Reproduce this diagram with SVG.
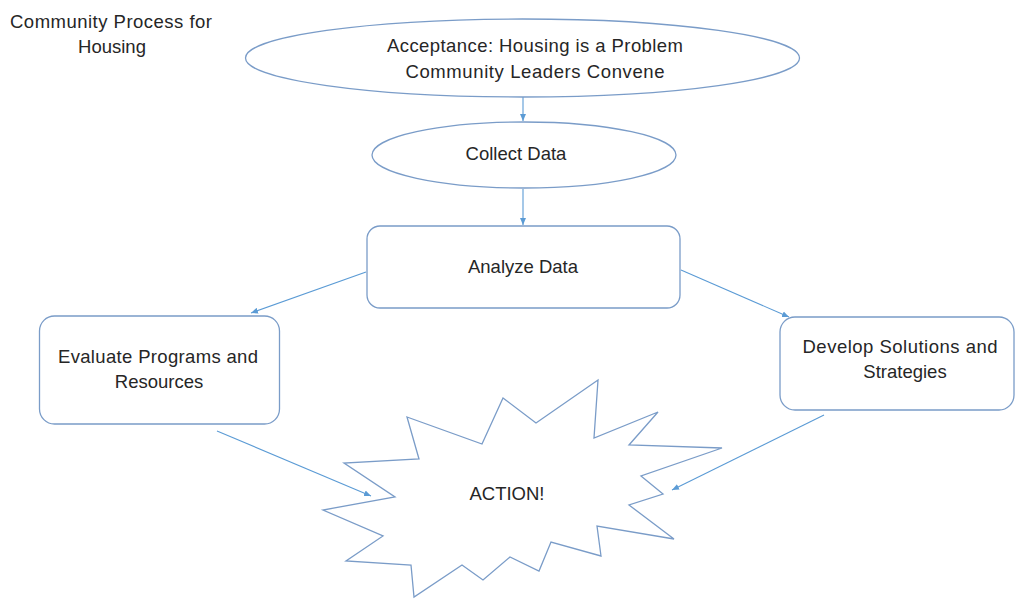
<svg xmlns="http://www.w3.org/2000/svg" width="1015" height="599" viewBox="0 0 1015 599">
<defs>
<style>
.shape{fill:#ffffff;stroke:#7a9cc8;stroke-width:1.3}
.conn{fill:none;stroke:#5b9bd5;stroke-width:1.1}
.t{font-family:"Liberation Sans",Arial,sans-serif;font-size:18.5px;fill:#262626;text-anchor:middle}
</style>
<marker id="arr" markerUnits="userSpaceOnUse" markerWidth="8" markerHeight="8" viewBox="0 0 8 8" refX="7" refY="4" orient="auto">
<path d="M0,1 L7,4 L0,7 Z" fill="#5b9bd5"/>
</marker>
</defs>
<rect width="1015" height="599" fill="#ffffff"/>
<g id="title">
<text class="t" x="111" y="28" textLength="202">Community Process for</text>
<text class="t" x="112" y="53">Housing</text>
</g>
<g id="connectors">
<line class="conn" x1="523" y1="97" x2="523" y2="121" marker-end="url(#arr)"/>
<line class="conn" x1="523" y1="189" x2="523" y2="225" marker-end="url(#arr)"/>
<line class="conn" x1="366" y1="272" x2="251" y2="313" marker-end="url(#arr)"/>
<line class="conn" x1="681" y1="270" x2="789" y2="317" marker-end="url(#arr)"/>
<line class="conn" x1="217" y1="431" x2="371" y2="496" marker-end="url(#arr)"/>
<line class="conn" x1="824" y1="415" x2="672" y2="490" marker-end="url(#arr)"/>
</g>
<g id="acceptance">
<ellipse class="shape" cx="522.5" cy="58" rx="277" ry="39"/>
<text class="t" x="535" y="52" textLength="296">Acceptance: Housing is a Problem</text>
<text class="t" x="535" y="78" textLength="259">Community Leaders Convene</text>
</g>
<g id="collect">
<ellipse class="shape" cx="524" cy="155" rx="152" ry="33"/>
<text class="t" x="516" y="160">Collect Data</text>
</g>
<g id="analyze">
<rect class="shape" x="367" y="226" width="313" height="82" rx="13"/>
<text class="t" x="523" y="273">Analyze Data</text>
</g>
<g id="evaluate">
<rect class="shape" x="39.5" y="316" width="240" height="108" rx="15"/>
<text class="t" x="158" y="363" textLength="200">Evaluate Programs and</text>
<text class="t" x="159" y="388">Resources</text>
</g>
<g id="develop">
<rect class="shape" x="780" y="317" width="234" height="93" rx="15"/>
<text class="t" x="900" y="353" textLength="195">Develop Solutions and</text>
<text class="t" x="905" y="378">Strategies</text>
</g>
<g id="action">
<polygon class="shape" points="407,417 482,444 503,398 536,423 598,380 594,438 658,412 629,445 722,448 641,476 663,494 629,505 674,539 597,526 601,556 551,542 539,571 510,557 483,580 462,565 414,597 411,565 346,561 383,536 323,510 395,497 344,463 419,459"/>
<text class="t" x="507" y="500">ACTION!</text>
</g>
</svg>
